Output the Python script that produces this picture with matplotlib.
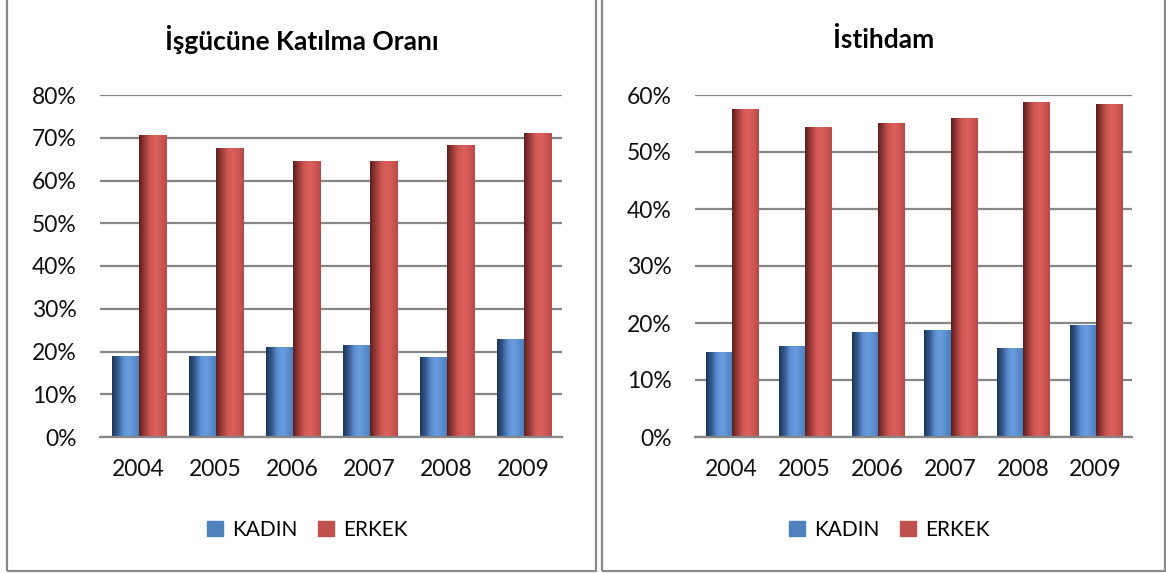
import numpy as np
import matplotlib
matplotlib.use('Agg')
import matplotlib.pyplot as plt
from matplotlib.colors import LinearSegmentedColormap
from matplotlib.patches import Rectangle, Patch
from matplotlib.ticker import FuncFormatter

plt.rcParams['font.family'] = ['Lato', 'DejaVu Sans']

# data
years = ['2004', '2005', '2006', '2007', '2008', '2009']
katilma_kadin = [19.0, 19.0, 21.1, 21.6, 18.8, 23.0]
katilma_erkek = [70.7, 67.6, 64.5, 64.5, 68.3, 71.1]
istihdam_kadin = [15.0, 15.9, 18.5, 18.7, 15.7, 19.7]
istihdam_erkek = [57.5, 54.3, 55.1, 55.9, 58.8, 58.5]

blue = '#4f81bd'
red = '#c0504d'
blue_cm = LinearSegmentedColormap.from_list('b', ['#1d3659', '#35598c', '#5b8fd2', '#6a9ee0', '#5d8fd0', '#4a7bbd'])
red_cm = LinearSegmentedColormap.from_list('r', ['#5c201f', '#9a3b39', '#cf5653', '#dc605d', '#cf5754', '#b84a48'])
grid_col = '#868686'

W, H = 1166, 573
fig = plt.figure(figsize=(W / 100, H / 100), dpi=100)


def shade(ax, bars, cm):
    grad = np.linspace(0, 1, 64).reshape(1, -1)
    for b in bars:
        x0 = b.get_x()
        x1 = x0 + b.get_width()
        h = b.get_height()
        im = ax.imshow(grad, cmap=cm, extent=(x0, x1, 0, h), aspect='auto',
                       zorder=3, interpolation='bicubic')
        im.set_clip_path(b)


def panel(px0, px1, gx0, gx1, kadin, erkek, ymax, title):
    # border of the chart box
    fig.patches.append(Rectangle((px0 / W, 1 - 571 / H), (px1 - px0) / W, 1.0,
                                 transform=fig.transFigure, fill=False,
                                 edgecolor='#8a8a8a', linewidth=1.6))
    ax = fig.add_axes([gx0 / W, 1 - 437 / H, (gx1 - gx0) / W, (437 - 95) / H])
    x = np.arange(len(years))
    w = 0.36
    b1 = ax.bar(x - w / 2 + 0.01, kadin, w, color=blue, zorder=2)
    b2 = ax.bar(x + w / 2 + 0.01, erkek, w, color=red, zorder=2)
    shade(ax, b1, blue_cm)
    shade(ax, b2, red_cm)
    ax.set_xlim(-0.5, len(years) - 0.5)
    ax.set_ylim(0, ymax)
    ax.set_yticks(np.arange(0, ymax + 1, 10))
    ax.yaxis.set_major_formatter(FuncFormatter(lambda v, p: '%d%%' % v))
    ax.set_xticks(x)
    ax.set_xticklabels(years)
    ax.grid(axis='y', color=grid_col, linewidth=1.6, zorder=0)
    ax.set_axisbelow(True)
    for s in ['top', 'right', 'left']:
        ax.spines[s].set_visible(False)
    ax.spines['bottom'].set_color(grid_col)
    ax.spines['bottom'].set_linewidth(1.6)
    ax.spines['bottom'].set_zorder(4)
    ax.tick_params(axis='both', length=0, labelsize=16.5, colors='#111111')
    ax.tick_params(axis='y', pad=17)
    ax.tick_params(axis='x', pad=16)
    cx = (px0 + px1) / 2 / W
    fig.text(cx, 1 - 40 / H, title, ha='center', va='center',
             fontsize=19, fontweight='bold')
    handles = [Patch(color=blue, label='KADIN'), Patch(color=red, label='ERKEK')]
    fig.legend(handles=handles, loc='center', bbox_to_anchor=(cx + 6 / W, 1 - 530 / H),
               ncol=2, frameon=False, fontsize=15, handlelength=0.75,
               handleheight=0.75, handletextpad=0.45, columnspacing=1.0)
    return ax


panel(7, 596, 100, 562, katilma_kadin, katilma_erkek, 80, 'İşgücüne Katılma Oranı')
panel(602, 1165, 695, 1132, istihdam_kadin, istihdam_erkek, 60, 'İstihdam')

fig.savefig('out.png', dpi=100)
